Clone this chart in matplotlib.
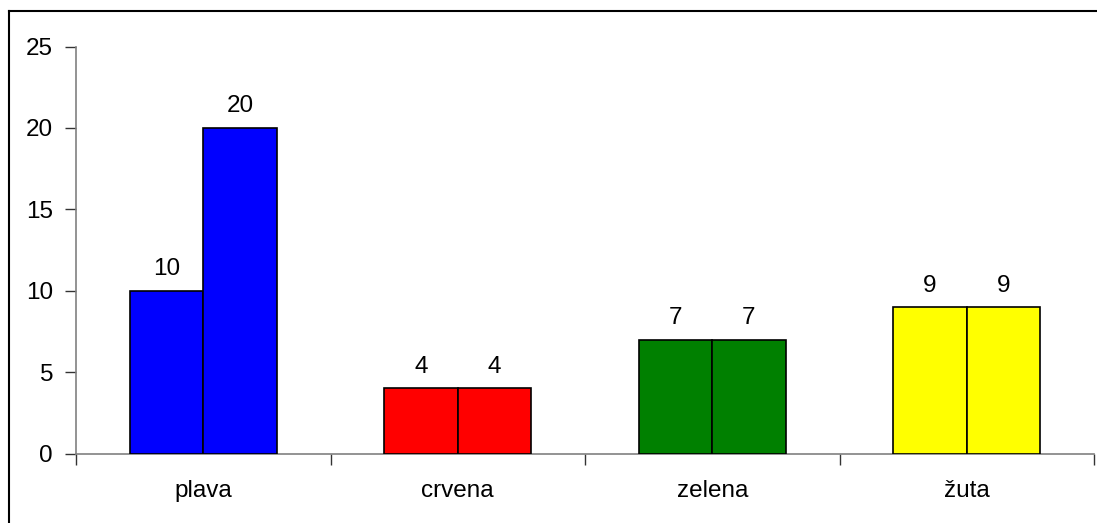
import matplotlib
matplotlib.use("Agg")
import matplotlib.pyplot as plt
from matplotlib.lines import Line2D
import numpy as np

categories = ["plava", "crvena", "zelena", "žuta"]
series_a = [10, 4, 7, 9]
series_b = [20, 4, 7, 9]
colors = ["#0000FF", "#FF0000", "#008000", "#FFFF00"]
y_ticks = [0, 5, 10, 15, 20, 25]

plt.rcParams["font.family"] = ["Liberation Sans", "DejaVu Sans"]

W, H = 1097, 523
fig = plt.figure(figsize=(W / 100, H / 100), dpi=100)
ax = fig.add_axes([76 / W, 69.5 / H, (1094 - 76) / W, 407 / H])

centers = np.arange(len(categories)) + 0.5
bw = 0.288
ax.bar(centers - bw / 2, series_a, width=bw, color=colors,
       edgecolor="black", linewidth=1.2, zorder=3)
ax.bar(centers + bw / 2, series_b, width=bw, color=colors,
       edgecolor="black", linewidth=1.2, zorder=3)

fs = 17.5
for x, a, b in zip(centers, series_a, series_b):
    ax.annotate(str(a), (x - bw / 2, a), xytext=(0, 7.5), textcoords="offset points",
                ha="center", va="bottom", fontsize=fs)
    ax.annotate(str(b), (x + bw / 2, b), xytext=(0, 7.5), textcoords="offset points",
                ha="center", va="bottom", fontsize=fs)

ax.set_xlim(0, len(categories))
ax.set_ylim(0, 25)
ax.set_yticks(y_ticks)
ax.set_yticklabels([str(t) for t in y_ticks], fontsize=fs)

# Category boundaries carry the tick marks; names sit at the centres
ax.set_xticks(np.arange(len(categories) + 1))
ax.set_xticklabels([])
ax.set_xticks(centers, minor=True)
ax.set_xticklabels(categories, minor=True, fontsize=fs)
ax.tick_params(axis="x", which="minor", length=0, pad=19)
ax.tick_params(axis="x", which="major", length=8, width=1, color="#333333")
ax.tick_params(axis="y", length=8, width=1, color="#333333", pad=8.5)

for side in ["top", "right"]:
    ax.spines[side].set_visible(False)
for side in ["left", "bottom"]:
    ax.spines[side].set_color("#808080")
    ax.spines[side].set_linewidth(1.2)

# Outer chart frame (top and left edges)
fig.add_artist(Line2D([8.5 / W, 8.5 / W], [0, 1 - 10.5 / H], transform=fig.transFigure,
                      color="black", linewidth=1.5))
fig.add_artist(Line2D([8.5 / W, 1], [1 - 10.5 / H, 1 - 10.5 / H], transform=fig.transFigure,
                      color="black", linewidth=1.5))

fig.savefig("out.png", dpi=100)
